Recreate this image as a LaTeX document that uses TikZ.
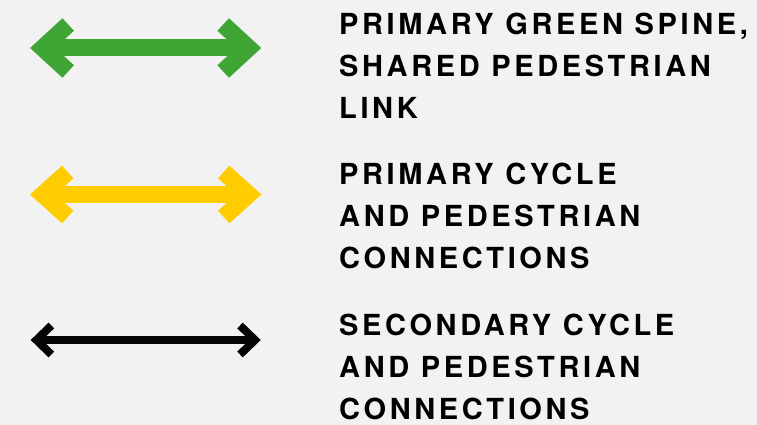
\documentclass[tikz,border=0pt]{standalone}
\usepackage{fontspec}
\setmainfont{TeX Gyre Heros}
\newfontfamily\legendfont{TeX Gyre Heros}[LetterSpace=12.5]
\usepackage{tikz}
\usetikzlibrary{positioning}
\usepackage{xcolor}
\definecolor{legbg}{HTML}{F2F2F2}
\definecolor{spinegreen}{HTML}{3FA535}
\definecolor{cycleyellow}{HTML}{FFCC00}
\definecolor{secblack}{HTML}{050505}

\begin{document}
\begin{tikzpicture}[
    x=1pt, y=-1pt,
    label/.style={anchor=base west, inner sep=0pt, align=left,
                  font=\legendfont\bfseries\fontsize{29}{42}\selectfont},
    spine/.style={draw=spinegreen, line width=17pt},
    primary/.style={draw=cycleyellow, line width=17pt},
    secondary/.style={draw=secblack, line width=8pt},
    barb/.style={miter limit=10, line join=miter, line cap=butt},
  ]
    \path[fill=legbg, use as bounding box] (0,0) rectangle (757,425);

    % arrow end points (centre line)
    \coordinate (g-l) at (42.7,48);
    \coordinate (g-r) at (248.7,48);
    \coordinate (y-l) at (42.7,194.5);
    \coordinate (y-r) at (248.7,194.5);
    \coordinate (b-l) at (36.4,340);
    \coordinate (b-r) at (255,340);

    \draw[spine] (g-l) -- (g-r);
    \draw[spine, barb] ([shift={(25.5,-23.5)}]g-l) -- (g-l) -- ++(25.5,23.5);
    \draw[spine, barb] ([shift={(-25.5,-23.5)}]g-r) -- (g-r) -- ++(-25.5,23.5);

    \draw[primary] (y-l) -- (y-r);
    \draw[primary, barb] ([shift={(25,-22.5)}]y-l) -- (y-l) -- ++(25,22.5);
    \draw[primary, barb] ([shift={(-25,-22.5)}]y-r) -- (y-r) -- ++(-25,22.5);

    \draw[secondary] (b-l) -- (b-r);
    \draw[secondary, barb] ([shift={(15,-14.5)}]b-l) -- (b-l) -- ++(15,14.5);
    \draw[secondary, barb] ([shift={(-15,-14.5)}]b-r) -- (b-r) -- ++(-15,14.5);

    % legend texts (base = last line)
    \node[label] (spinetxt) at (339,118)   {PRIMARY GREEN SPINE,\\SHARED PEDESTRIAN\\LINK};
    \node[label] (primtxt)  at (339,268.5) {PRIMARY CYCLE\\AND PEDESTRIAN\\CONNECTIONS};
    \node[label] (sectxt)   at (339,419)   {SECONDARY CYCLE\\AND PEDESTRIAN\\CONNECTIONS};
  \end{tikzpicture}
\end{document}
